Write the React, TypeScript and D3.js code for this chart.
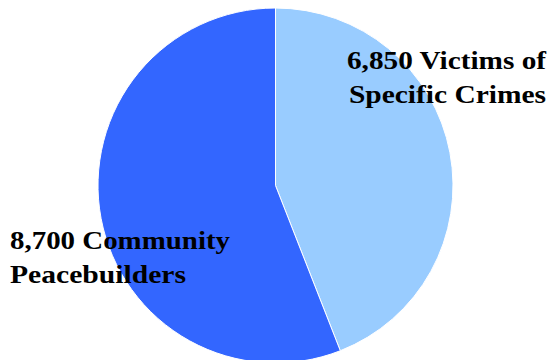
import React from "react";
import * as d3 from "d3";

const categories = ["Victims of Specific Crimes", "Community Peacebuilders"];
const values = [6850, 8700];
const colors = ["#99CCFF", "#3366FF"];
const labelLines = [
  ["6,850 Victims of", "Specific Crimes"],
  ["8,700 Community", "Peacebuilders"],
];
const labelWidths = [
  [199, 197],
  [220, 176],
];

export default function App() {
  const W = 550, H = 360;
  const cx = 275.5, cy = 185.5, r = 177.5;
  const pie = d3.pie<number>().sort(null).value((d) => d)(values);
  const arc = d3.arc<d3.PieArcDatum<number>>().innerRadius(0).outerRadius(r);
  const fontFamily = "'Liberation Serif', serif";
  return (
    <svg width={W} height={H} style={{ position: "absolute", left: 0, top: 0 }}>
      <g transform={`translate(${cx},${cy})`}>
        {pie.map((p, i) => (
          <path key={categories[i]} d={arc(p) || ""} fill={colors[i]} stroke="#fff" strokeWidth={1} />
        ))}
      </g>
      <g fontFamily={fontFamily} fontWeight="bold" fontSize={25} fill="#000">
        <text x={546} y={69} textAnchor="end" textLength={labelWidths[0][0]} lengthAdjust="spacingAndGlyphs">{labelLines[0][0]}</text>
        <text x={546} y={103} textAnchor="end" textLength={labelWidths[0][1]} lengthAdjust="spacingAndGlyphs">{labelLines[0][1]}</text>
        <text x={10} y={249} textAnchor="start" textLength={labelWidths[1][0]} lengthAdjust="spacingAndGlyphs">{labelLines[1][0]}</text>
        <text x={10} y={283} textAnchor="start" textLength={labelWidths[1][1]} lengthAdjust="spacingAndGlyphs">{labelLines[1][1]}</text>
      </g>
    </svg>
  );
}
